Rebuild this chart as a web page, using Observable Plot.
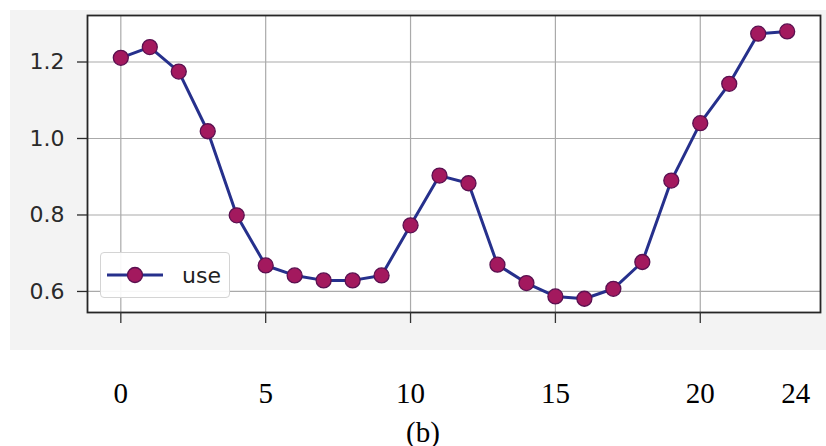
<!DOCTYPE html>
<html>
<head>
<meta charset="utf-8">
<script src="https://cdn.jsdelivr.net/npm/d3@7"></script>
<script src="https://cdn.jsdelivr.net/npm/@observablehq/plot@0.6"></script>
<style>
  body { margin: 0; background: #fff; }
  #wrap { position: relative; width: 826px; height: 446px; overflow: hidden; }
  #bg { position: absolute; left: 10px; top: 10px; width: 816px; height: 340px; background: #f3f3f3; }
  #chart { position: absolute; left: 0; top: 0; }
  #legend { position: absolute; left: 100px; top: 252px; width: 130px; height: 46px;
    border: 1px solid #d4d4d4; border-radius: 4px; background: rgba(255,255,255,0.9);
    box-sizing: border-box; display: flex; align-items: center;
    font-family: "DejaVu Sans", sans-serif; font-size: 22px; color: #222; }
  #legend svg { margin-left: 6px; margin-right: 19px; }
</style>
</head>
<body>
<div id="wrap">
  <div id="bg"></div>
  <div id="chart"></div>
  <div id="legend"></div>
</div>
<script>
// Data
const hours = [0,1,2,3,4,5,6,7,8,9,10,11,12,13,14,15,16,17,18,19,20,21,22,23];
const useValues = [1.211,1.239,1.175,1.019,0.799,0.668,0.642,0.629,0.629,0.642,0.773,0.903,
                   0.883,0.670,0.622,0.587,0.581,0.607,0.677,0.890,1.040,1.143,1.274,1.280];
const seriesName = "use";
const xGridTicks = [0,5,10,15,20];
const xLabelTicks = [0,5,10,15,20];
const xLastLabel = [24];
const yTicks = [0.6,0.8,1.0,1.2];
const caption = "(b)";

const data = hours.map((h, i) => ({hour: h, value: useValues[i]}));

const lineColor = "#26308c";
const dotFill = "#a3195e";
const dotStroke = "#5a1050";

const chart = Plot.plot({
  width: 826,
  height: 446,
  marginLeft: 87,
  marginRight: 6,
  marginTop: 15,
  marginBottom: 134,
  style: {background: "transparent", overflow: "visible"},
  x: {domain: [-1.15, 24.15], axis: null},
  y: {domain: [0.545, 1.3216], axis: null},
  marks: [
    Plot.frame({fill: "white"}),
    Plot.gridX(xGridTicks, {stroke: "#aaaaaa", strokeOpacity: 1, strokeWidth: 1.2}),
    Plot.gridY(yTicks, {stroke: "#aaaaaa", strokeOpacity: 1, strokeWidth: 1.2}),
    Plot.line(data, {x: "hour", y: "value", stroke: lineColor, strokeWidth: 3}),
    Plot.dot(data, {x: "hour", y: "value", r: 7.5, fill: dotFill, stroke: dotStroke, strokeWidth: 1.3}),
    Plot.frame({stroke: "#262626", strokeWidth: 1.8}),
    Plot.axisY(yTicks, {label: null, tickSize: 10, tickPadding: 13, tickFormat: d3.format(".1f"),
      fontSize: 22, fontFamily: "DejaVu Sans", color: "#2a2a2a", strokeWidth: 1.3}),
    Plot.axisX(xGridTicks, {label: null, tickSize: 11, tickFormat: () => "", color: "#333", strokeWidth: 1.3}),
    Plot.axisX(xLabelTicks, {label: null, tickSize: 0, tickPadding: 70, tickFormat: d => String(d),
      fontSize: 29, fontFamily: "Liberation Serif", color: "#000"}),
    Plot.axisX(xLastLabel, {label: null, tickSize: 0, tickPadding: 70, tickFormat: d => String(d),
      textAnchor: "end", dx: -6, fontSize: 29, fontFamily: "Liberation Serif", color: "#000"}),
    Plot.text([caption], {frameAnchor: "bottom", text: d => d, dx: -31, dy: 129,
      fontSize: 29, fontFamily: "Liberation Serif", fill: "#000"})
  ]
});
document.getElementById("chart").appendChild(chart);

// Legend
const legend = document.getElementById("legend");
const ns = "http://www.w3.org/2000/svg";
const sym = document.createElementNS(ns, "svg");
sym.setAttribute("width", "56");
sym.setAttribute("height", "20");
const ln = document.createElementNS(ns, "line");
ln.setAttribute("x1", "0"); ln.setAttribute("x2", "56");
ln.setAttribute("y1", "10"); ln.setAttribute("y2", "10");
ln.setAttribute("stroke", lineColor); ln.setAttribute("stroke-width", "3");
const c = document.createElementNS(ns, "circle");
c.setAttribute("cx", "28"); c.setAttribute("cy", "10"); c.setAttribute("r", "7.5");
c.setAttribute("fill", dotFill); c.setAttribute("stroke", dotStroke); c.setAttribute("stroke-width", "1.3");
sym.appendChild(ln); sym.appendChild(c);
legend.appendChild(sym);
const lbl = document.createElement("span");
lbl.textContent = seriesName;
legend.appendChild(lbl);
</script>
</body>
</html>
